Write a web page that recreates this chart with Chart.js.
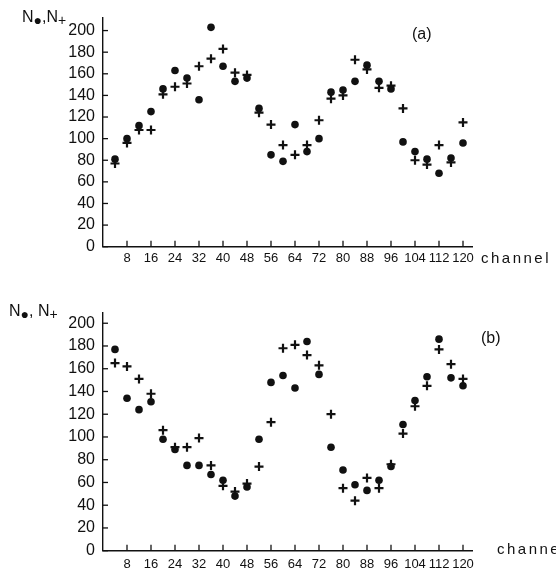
<!DOCTYPE html>
<html>
<head>
<meta charset="utf-8">
<script src="https://cdn.jsdelivr.net/npm/chart.js@4"></script>
<style>
body { margin: 0; width: 556px; height: 575px; overflow: hidden; background: #fff; position: relative; font-family: 'Liberation Sans', sans-serif; color: #111; }
canvas { position: absolute; left: 0; }
.lbl { position: absolute; font-size: 16px; white-space: nowrap; line-height: 1; }
.lbl sub { font-size: 14px; vertical-align: -3px; }
.chan { letter-spacing: 2.5px; font-size: 15px; }
</style>
</head>
<body>
<canvas id="chartA" width="556" height="280" style="top:0"></canvas>
<canvas id="chartB" width="556" height="290" style="top:285px"></canvas>

<div class="lbl" style="left:22px;top:9px">N<sub>&#9679;</sub>,N<sub>+</sub></div>
<div class="lbl" style="left:412px;top:26px">(a)</div>
<div class="lbl chan" style="left:481px;top:250px">channel</div>

<div class="lbl" style="left:9px;top:303px">N<sub>&#9679;</sub>, N<sub>+</sub></div>
<div class="lbl" style="left:481px;top:330px">(b)</div>
<div class="lbl chan" style="left:497px;top:541px">channel</div>

<script>
// channel numbers (every 4th channel)
const channels = [4, 8, 12, 16, 20, 24, 28, 32, 36, 40, 44, 48, 52, 56, 60,
                  64, 68, 72, 76, 80, 84, 88, 92, 96, 100, 104, 108, 112, 116, 120];

// panel (a)
const aDots = [81, 100, 112, 125, 146, 163, 156, 136, 203, 167, 153, 156, 128, 85, 79,
               113, 88, 100, 143, 145, 153, 168, 153, 146, 97, 88, 81, 68, 82, 96];
const aPlus = [77, 96, 108, 108, 141, 148, 151, 167, 174, 183, 161, 159, 124, 113, 94,
               85, 94, 117, 137, 140, 173, 164, 147, 149, 128, 80, 76, 94, 78, 115];

// panel (b)
const bDots = [177, 134, 124, 131, 98, 89, 75, 75, 67, 62, 48, 56, 98, 148, 154,
               143, 184, 155, 91, 71, 58, 53, 62, 74, 111, 132, 153, 186, 152, 145];
const bPlus = [165, 162, 151, 138, 106, 91, 91, 99, 75, 57, 52, 59, 74, 113, 178,
               181, 172, 163, 120, 55, 44, 64, 55, 76, 103, 127, 145, 177, 164, 151];

const ink = '#111';
const yFont = { family: "'Liberation Sans', sans-serif", size: 16 };
const xFont = { family: "'Liberation Sans', sans-serif", size: 13 };

// short tick marks pointing into the plot, like the original figure
const innerTicks = {
    id: 'innerTicks',
    afterDraw(chart) {
        const ctx = chart.ctx;
        const xs = chart.scales.x;
        const ys = chart.scales.y;
        ctx.save();
        ctx.strokeStyle = ink;
        ctx.lineWidth = 1.3;
        xs.ticks.forEach(t => {
            if (t.value === 0) return;
            const px = xs.getPixelForValue(t.value);
            ctx.beginPath();
            ctx.moveTo(px, ys.bottom);
            ctx.lineTo(px, ys.bottom - 6);
            ctx.stroke();
        });
        ys.ticks.forEach(t => {
            const py = ys.getPixelForValue(t.value);
            ctx.beginPath();
            ctx.moveTo(xs.left, py);
            ctx.lineTo(xs.left + 5, py);
            ctx.stroke();
        });
        ctx.restore();
    }
};

function toPoints(vals) {
    return vals.map((v, i) => ({ x: channels[i], y: v }));
}

function makeChart(id, dots, plus, yMax, padTop, xHeight, xPad) {
    return new Chart(document.getElementById(id), {
        type: 'scatter',
        data: {
            datasets: [{
                data: toPoints(plus),
                pointStyle: 'cross',
                pointRadius: 4.5,
                borderWidth: 2.2,
                borderColor: ink,
                backgroundColor: ink
            }, {
                data: toPoints(dots),
                pointStyle: 'circle',
                pointRadius: 3.8,
                borderWidth: 0,
                backgroundColor: ink
            }]
        },
        options: {
            responsive: false,
            animation: false,
            clip: false,
            layout: { padding: { left: 0, right: 84, top: padTop, bottom: 0 } },
            plugins: { legend: { display: false }, tooltip: { enabled: false } },
            scales: {
                x: {
                    type: 'linear',
                    min: 0,
                    max: 123,
                    grid: { display: false, drawTicks: false, tickLength: 0 },
                    border: { color: ink, width: 1.4 },
                    ticks: {
                        stepSize: 8,
                        includeBounds: false,
                        padding: xPad,
                        color: ink,
                        font: xFont,
                        maxRotation: 0,
                        autoSkip: false,
                        callback: v => (v === 0 ? '' : v)
                    },
                    afterFit: s => { s.height = xHeight; }
                },
                y: {
                    min: 0,
                    max: yMax,
                    grid: { display: false, drawTicks: false, tickLength: 0 },
                    border: { color: ink, width: 1.4 },
                    ticks: {
                        stepSize: 20,
                        includeBounds: false,
                        padding: 8,
                        color: ink,
                        font: yFont
                    },
                    afterFit: s => { s.width = 103; }
                }
            }
        },
        plugins: [innerTicks]
    });
}

makeChart('chartA', aDots, aPlus, 212, 5, 33.3, 4);
makeChart('chartB', bDots, bPlus, 209, 28, 24.3, 6);
</script>
</body>
</html>
